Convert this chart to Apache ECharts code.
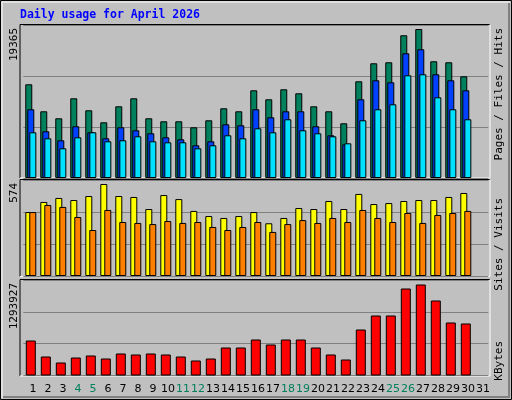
<!DOCTYPE html>
<html><head><meta charset="utf-8">
<script src="https://cdn.jsdelivr.net/npm/echarts@6/dist/echarts.min.js"></script>
<style>html,body{margin:0;padding:0;background:#c0c0c0}#c{width:512px;height:400px}</style>
</head><body><div id="c"></div>
<script>
const days = Array.from({length:31},(_,i)=>String(i+1));
const weekendDays = ['4','5','11','12','18','19','25','26'];
const hits = [12180,8670,7760,10360,8800,7240,9320,10360,7760,7370,7370,6590,7500,9060,8670,11400,10230,11530,11010,9320,8670,7110,12570,14910,15040,18550,19365,15170,15040,13220,null];
const files = [8930,6070,4900,6720,5940,5160,6590,6200,5810,5290,5030,4250,4770,6980,6850,8930,7890,8670,8670,6720,5550,4380,10230,12700,12440,16210,16730,13480,12700,11400,null];
const pages = [5940,5160,3860,5290,5940,4770,4900,5420,4770,4640,4640,3860,4250,5550,5160,6460,5940,7630,6200,5810,5420,4510,7500,8930,9580,13350,13480,10490,8930,7630,null];
const visits = [399,462,487,474,499,574,499,493,418,505,480,406,374,362,374,399,329,362,424,418,468,418,512,449,455,468,474,474,493,518,null];
const sites = [399,443,431,368,287,412,337,331,324,343,331,337,306,287,306,337,275,324,349,331,362,337,412,362,337,393,331,381,393,406,null];
const kbytes = [497660,270160,184850,255940,284380,241720,312820,298600,312820,298600,270160,213290,241720,398130,398130,511880,440790,511880,511880,398130,298600,227500,654070,853140,853140,1237050,1293927,1066430,753610,739390,null];
const maxLabels = ['19365','574','1293927'];
const title = 'Daily usage for April 2026';

const chart = echarts.init(document.getElementById('c'));
const mono = 'DejaVu Sans Mono';
const M0 = 19365*153/149, M1 = 574*96/92, M2 = 1293927*95.5/91;
const gl = 23.3, gw = 465;
function yax(i,M){return {gridIndex:i,type:'value',min:0,max:M,interval:M/3,axisLabel:{show:false},axisLine:{show:false},axisTick:{show:false},splitLine:{lineStyle:{color:'#808080',width:1}}};}
function xax(i){return {gridIndex:i,type:'category',data:days,axisLine:{show:false},axisTick:{show:false},axisLabel:{show:false}};}
const bs = {borderColor:'#000',borderWidth:1};
function bar(name,data,color,xi,w,gap){return {name,type:'bar',xAxisIndex:xi,yAxisIndex:xi,data,barWidth:w,barGap:gap,itemStyle:Object.assign({color},bs),animation:false,silent:true};}
function panel(y,h){return [
 {type:'line',shape:{x1:20,y1:y,x2:490,y2:y},style:{stroke:'#000',lineWidth:1}},
 {type:'line',shape:{x1:20,y1:y,x2:20,y2:y+h},style:{stroke:'#000',lineWidth:1}},
 {type:'line',shape:{x1:490,y1:y,x2:490,y2:y+h},style:{stroke:'#fff',lineWidth:1}},
 {type:'line',shape:{x1:20,y1:y+h,x2:490,y2:y+h},style:{stroke:'#fff',lineWidth:1}}];}
function vtext(x,y,rich,text,align){return {type:'text',x,y,rotation:Math.PI/2,style:{text,rich,align:align,verticalAlign:'middle',font:'11px '+mono}};}
const R = (c)=>({color:c,fontFamily:mono,fontSize:11});
chart.setOption({
 animation:false,
 backgroundColor:'#c0c0c0',
 grid:[{left:gl,top:25,width:gw,height:153},{left:gl,top:180,width:gw,height:96},{left:gl,top:280,width:gw,height:95.5},{left:25.5,top:376,width:gw,height:1}],
 xAxis:[xax(0),xax(1),xax(2),{gridIndex:3,type:'category',data:days,axisLine:{show:false},axisTick:{show:false},axisLabel:{margin:7,interval:0,fontFamily:'DejaVu Sans',fontSize:11,color:(v)=>weekendDays.includes(v)?'#00805c':'#000'}}],
 yAxis:[yax(0,M0),yax(1,M1),yax(2,M2),{gridIndex:3,type:'value',show:false}],
 series:[
  bar('Hits',hits,'#00805c',0,7,'-71%'),bar('Files',files,'#0040ff',0,7,'-71%'),bar('Pages',pages,'#00e0ff',0,7,'-71%'),
  bar('Visits',visits,'#ffff00',1,7,'-43%'),bar('Sites',sites,'#ff8000',1,7,'-43%'),
  bar('KBytes',kbytes,'#ff0000',2,10,'0%')
 ],
 graphic:[
  {type:'rect',shape:{x:0.5,y:0.5,width:511,height:399},style:{fill:'none',stroke:'#000',lineWidth:1},z:0},
  {type:'polyline',shape:{points:[[2,398],[2,2],[510,2]]},style:{fill:'none',stroke:'#fff',lineWidth:1}},
  {type:'polyline',shape:{points:[[3,397],[509,397],[509,3]]},style:{fill:'none',stroke:'#808080',lineWidth:2}},
  {type:'text',x:20,y:15,style:{text:title,font:'bold 11.5px '+mono,fill:'#0000ff',verticalAlign:'middle'}},
  ...panel(24.5,153.5),...panel(179.5,97),...panel(279.5,96.5),
  vtext(14,28,{},maxLabels[0],'right'),
  vtext(14,183,{},maxLabels[1],'right'),
  vtext(14,283,{},maxLabels[2],'right'),
  vtext(499,28,{p:R('#00e0ff'),f:R('#0040ff'),h:R('#00805c')},'{p|Pages} {f|/} {f|Files} {h|/} {h|Hits}','right'),
  vtext(499,198,{s:R('#ff8000'),v:R('#ffff00')},'{s|Sites} {v|/} {v|Visits}','right'),
  vtext(499,341,{k:R('#ff0000')},'{k|KBytes}','right')
 ]
});
</script></body></html>
